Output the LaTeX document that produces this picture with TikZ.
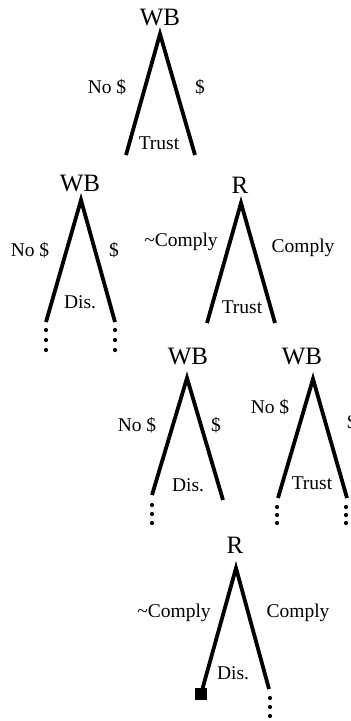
\documentclass[tikz,border=0pt]{standalone}
\usepackage{fontspec}
\setmainfont{Liberation Serif}
\begin{document}
\begin{tikzpicture}[x=1pt,y=-1pt,
  branch/.style={line width=3.8pt, line join=miter},
  player/.style={font=\fontsize{25}{25}\selectfont, inner sep=0pt},
  act/.style={font=\fontsize{19.5}{19.5}\selectfont, inner sep=0pt},
  dotmark/.style={fill=black, draw=none},
  terminal/.style={fill=black, draw=none, minimum size=12pt, inner sep=0pt, rectangle}]
\useasboundingbox (0,0) rectangle (351,721);
% three vertical dots under a branch end
\newcommand{\contdots}[3]{%
  \foreach \k in {0,1,2} \fill[dotmark] (#1,#2+\k*#3) circle (2.1pt);}

% ---- first move: WB ----
\node[player] (wb1) at (160,17) {WB};
\coordinate (wb1a) at (160,34);
\coordinate (wb1l) at (126,155);
\coordinate (wb1r) at (195,155);
\draw[branch] (wb1l) -- (wb1a) -- (wb1r);
\node[act] (wb1no) at (107,87) {No \$};
\node[act] (wb1yes) at (200,87) {\$};
\node[act] (wb1out) at (159,143) {Trust};

% ---- WB after no payment ----
\node[player] (wb2) at (80,183) {WB};
\coordinate (wb2a) at (81,200);
\coordinate (wb2l) at (46,322);
\coordinate (wb2r) at (115,322);
\draw[branch] (wb2l) -- (wb2a) -- (wb2r);
\node[act] (wb2no) at (30,250) {No \$};
\node[act] (wb2yes) at (114,250) {\$};
\node[act] (wb2out) at (80,302) {Dis.};
\contdots{46}{330}{10}
\contdots{115}{330}{10}

% ---- R after payment ----
\node[player] (r1) at (240,185) {R};
\coordinate (r1a) at (241,203);
\coordinate (r1l) at (207,323);
\coordinate (r1r) at (275,323);
\draw[branch] (r1l) -- (r1a) -- (r1r);
\node[act] (r1no) at (181,242) {\textasciitilde Comply};
\node[act] (r1yes) at (303,248) {Comply};
\node[act] (r1out) at (242,307) {Trust};

% ---- WB after non-compliance ----
\node[player] (wb3) at (188,356) {WB};
\coordinate (wb3a) at (187,378);
\coordinate (wb3l) at (152,495);
\coordinate (wb3r) at (223,500);
\draw[branch] (wb3l) -- (wb3a) -- (wb3r);
\node[act] (wb3no) at (137,425) {No \$};
\node[act] (wb3yes) at (216,425) {\$};
\node[act] (wb3out) at (188,485) {Dis.};
\contdots{152}{505}{9}

% ---- WB after compliance ----
\node[player] (wb4) at (302,356) {WB};
\coordinate (wb4a) at (313,379);
\coordinate (wb4l) at (278,498);
\coordinate (wb4r) at (347,498);
\draw[branch] (wb4l) -- (wb4a) -- (wb4r);
\node[act] (wb4no) at (270,407) {No \$};
\node[act] (wb4yes) at (352,422) {\$};
\node[act] (wb4out) at (312,483) {Trust};
\contdots{277}{507}{8}
\contdots{346}{507}{8}

% ---- R after second payment ----
\node[player] (r2) at (235,545) {R};
\coordinate (r2a) at (236,568);
\node[terminal] (r2end) at (201,694) {};
\coordinate (r2r) at (269,689);
\draw[branch] (r2end.center) -- (r2a) -- (r2r);
\node[act] (r2no) at (174,613) {\textasciitilde Comply};
\node[act] (r2yes) at (298,613) {Comply};
\node[act] (r2out) at (233,673) {Dis.};
\contdots{270}{698}{9}
\end{tikzpicture}
\end{document}
